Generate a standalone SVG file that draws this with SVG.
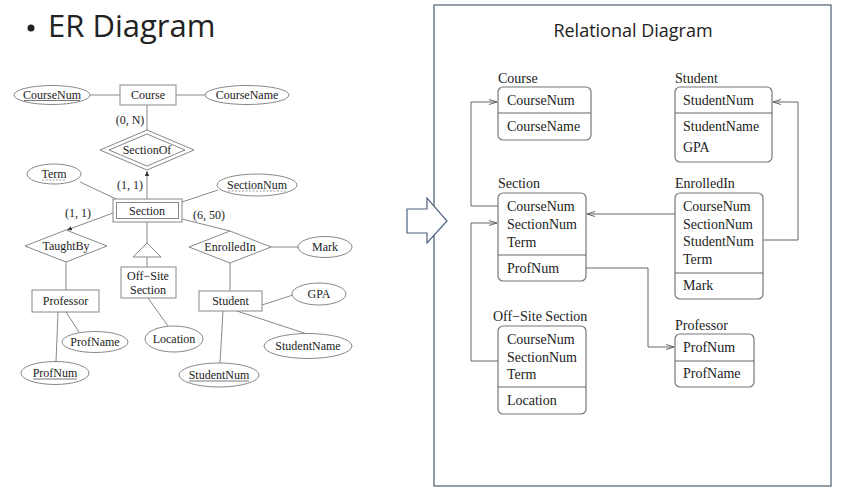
<svg xmlns="http://www.w3.org/2000/svg" width="843" height="502" viewBox="0 0 843 502">
<defs>
<style>
.er{fill:#fff;stroke:#888;stroke-width:1}
.erl{stroke:#888;stroke-width:1;fill:none}
.et{font-family:"Liberation Serif","Times New Roman",serif;font-size:12px;fill:#222;text-anchor:middle}
.rb{fill:#fff;stroke:#777;stroke-width:1.2}
.rl{stroke:#666;stroke-width:1;fill:none}
.rt{font-family:"Liberation Serif","Times New Roman",serif;font-size:14px;fill:#222}
.ttl{font-family:"Open Sans","Noto Sans",sans-serif;fill:#222}
.ul{stroke:#555;stroke-width:0.8}
.dul{stroke:#888;stroke-width:0.8;stroke-dasharray:2,1.5}
</style>
<marker id="fa" markerWidth="6" markerHeight="6" refX="5" refY="3" orient="auto" markerUnits="userSpaceOnUse">
<path d="M0,0.8 L5,3 L0,5.2 Z" fill="#333"/>
</marker>
<marker id="oa" markerWidth="10" markerHeight="8" refX="8" refY="3" orient="auto" markerUnits="userSpaceOnUse">
<path d="M0,0.5 L8,3 L0,5.5" fill="none" stroke="#666" stroke-width="1"/>
</marker>
</defs>
<rect width="843" height="502" fill="#fff"/>

<g id="er-title">
<circle cx="31" cy="28" r="3.5" fill="#222"/>
<text class="ttl" x="48" y="37" font-size="31">ER Diagram</text>
</g>

<g id="frame">
<rect x="434" y="5" width="397" height="481" fill="none" stroke="#4d5d72" stroke-width="1.2"/>
<text class="ttl" x="633" y="37" font-size="18" text-anchor="middle">Relational Diagram</text>
</g>

<g id="block-arrow">
<path d="M407,209 H427 V198 L447,221 L427,243 V233 H407 Z" fill="#fff" stroke="#4d6280" stroke-width="1.2"/>
</g>

<g id="er-connectors">
<line class="erl" x1="90" y1="95" x2="120" y2="95"/>
<line class="erl" x1="176" y1="95" x2="205" y2="95"/>
<line class="erl" x1="147" y1="105" x2="147" y2="130"/>
<line class="erl" x1="147" y1="199" x2="147" y2="171" marker-end="url(#fa)"/>
<line class="erl" x1="80" y1="182" x2="116" y2="199"/>
<line class="erl" x1="218" y1="190" x2="182" y2="202"/>
<line class="erl" x1="113" y1="213" x2="67" y2="230" marker-end="url(#fa)"/>
<line class="erl" x1="66" y1="262" x2="66" y2="290"/>
<line class="erl" x1="66" y1="312" x2="79" y2="332"/>
<line class="erl" x1="58" y1="312" x2="56" y2="362"/>
<line class="erl" x1="147" y1="222" x2="147" y2="243"/>
<line class="erl" x1="147" y1="257" x2="147" y2="267"/>
<line class="erl" x1="148" y1="298" x2="168" y2="326"/>
<line class="erl" x1="182" y1="219" x2="230" y2="231"/>
<line class="erl" x1="271" y1="247" x2="298" y2="247"/>
<line class="erl" x1="230" y1="263" x2="230" y2="291" stroke-width="1.8"/>
<line class="erl" x1="262" y1="305" x2="293" y2="295"/>
<line class="erl" x1="237" y1="311" x2="307" y2="334"/>
<line class="erl" x1="223" y1="311" x2="220" y2="363"/>
</g>

<g id="er-course">
<rect class="er" x="120" y="85" width="56" height="20"/>
<text class="et" x="148" y="99">Course</text>
</g>
<g id="er-coursenum">
<ellipse class="er" cx="52" cy="95" rx="38" ry="9.5"/>
<text class="et" x="52" y="99">CourseNum</text>
<line class="ul" x1="24" y1="100.5" x2="80" y2="100.5"/>
</g>
<g id="er-coursename">
<ellipse class="er" cx="247" cy="95" rx="42" ry="9.5"/>
<text class="et" x="247" y="99">CourseName</text>
</g>
<text class="et" x="130" y="124">(0, N)</text>
<g id="er-sectionof">
<polygon class="er" points="147,130 194,150 147,170 100,150"/>
<polygon class="er" points="147,134 185,150 147,166 109,150"/>
<text class="et" x="147" y="154">SectionOf</text>
</g>
<text class="et" x="130" y="189">(1, 1)</text>
<g id="er-term">
<ellipse class="er" cx="54" cy="174" rx="27" ry="10"/>
<text class="et" x="54" y="178">Term</text>
<line class="dul" x1="42" y1="180" x2="66" y2="180"/>
</g>
<g id="er-sectionnum">
<ellipse class="er" cx="257" cy="185" rx="40" ry="11"/>
<text class="et" x="257" y="189">SectionNum</text>
<line class="dul" x1="228" y1="191" x2="286" y2="191"/>
</g>
<g id="er-section">
<rect class="er" x="113" y="199" width="69" height="23"/>
<rect class="er" x="116.5" y="202.5" width="62" height="16"/>
<text class="et" x="147" y="215">Section</text>
</g>
<text class="et" x="78" y="217">(1, 1)</text>
<text class="et" x="209" y="219">(6, 50)</text>
<g id="er-taughtby">
<polygon class="er" points="66,230 107,246 66,262 25,246"/>
<text class="et" x="66" y="250">TaughtBy</text>
</g>
<g id="er-isa">
<polygon class="er" points="147,243 161,257 133,257"/>
</g>
<g id="er-offsite">
<rect class="er" x="121" y="267" width="55" height="31"/>
<text class="et" x="148" y="280">Off−Site</text>
<text class="et" x="148" y="294">Section</text>
</g>
<g id="er-enrolledin">
<polygon class="er" points="230,231 271,247 230,263 189,247"/>
<text class="et" x="230" y="251">EnrolledIn</text>
</g>
<g id="er-mark">
<ellipse class="er" cx="325" cy="247" rx="27" ry="10.5"/>
<text class="et" x="325" y="251">Mark</text>
</g>
<g id="er-professor">
<rect class="er" x="32" y="290" width="67" height="22"/>
<text class="et" x="65.5" y="305">Professor</text>
</g>
<g id="er-student">
<rect class="er" x="199" y="291" width="63" height="20"/>
<text class="et" x="230.5" y="305">Student</text>
</g>
<g id="er-gpa">
<ellipse class="er" cx="319" cy="294" rx="27" ry="11"/>
<text class="et" x="319" y="298">GPA</text>
</g>
<g id="er-profname">
<ellipse class="er" cx="95" cy="342" rx="33" ry="10.5"/>
<text class="et" x="95" y="346">ProfName</text>
</g>
<g id="er-location">
<ellipse class="er" cx="174" cy="339" rx="29" ry="13"/>
<text class="et" x="174" y="343">Location</text>
</g>
<g id="er-studentname">
<ellipse class="er" cx="308" cy="346" rx="44" ry="12.5"/>
<text class="et" x="308" y="350">StudentName</text>
</g>
<g id="er-profnum">
<ellipse class="er" cx="55" cy="373" rx="34" ry="11.5"/>
<text class="et" x="55" y="377">ProfNum</text>
<line class="ul" x1="33" y1="379" x2="77" y2="379"/>
</g>
<g id="er-studentnum">
<ellipse class="er" cx="219" cy="375" rx="40" ry="12"/>
<text class="et" x="219" y="379">StudentNum</text>
<line class="ul" x1="189" y1="381" x2="249" y2="381"/>
</g>

<g id="rel-connectors">
<path class="rl" d="M498,206 H471 V102 H497" marker-end="url(#oa)"/>
<path class="rl" d="M498,361 H471 V223 H497" marker-end="url(#oa)"/>
<path class="rl" d="M675,214 H587" marker-end="url(#oa)"/>
<path class="rl" d="M763,240 H798 V102 H773" marker-end="url(#oa)"/>
<path class="rl" d="M586,268 H648 V347 H674" marker-end="url(#oa)"/>
</g>

<g id="rel-course">
<text class="rt" x="498" y="83">Course</text>
<rect class="rb" x="498" y="87" width="93" height="53" rx="5"/>
<line class="rl" x1="498" y1="113" x2="591" y2="113"/>
<text class="rt" x="507" y="105">CourseNum</text>
<text class="rt" x="507" y="131">CourseName</text>
</g>
<g id="rel-student">
<text class="rt" x="675" y="83">Student</text>
<rect class="rb" x="675" y="87" width="97" height="75" rx="5"/>
<line class="rl" x1="675" y1="113" x2="772" y2="113"/>
<text class="rt" x="683" y="105">StudentNum</text>
<text class="rt" x="683" y="131">StudentName</text>
<text class="rt" x="683" y="152">GPA</text>
</g>
<g id="rel-section">
<text class="rt" x="498" y="188">Section</text>
<rect class="rb" x="498" y="193" width="88" height="88" rx="5"/>
<line class="rl" x1="498" y1="255" x2="586" y2="255"/>
<text class="rt" x="507" y="211">CourseNum</text>
<text class="rt" x="507" y="229">SectionNum</text>
<text class="rt" x="507" y="247">Term</text>
<text class="rt" x="507" y="273">ProfNum</text>
</g>
<g id="rel-enrolledin">
<text class="rt" x="675" y="188">EnrolledIn</text>
<rect class="rb" x="675" y="193" width="88" height="106" rx="5"/>
<line class="rl" x1="675" y1="273" x2="763" y2="273"/>
<text class="rt" x="683" y="211">CourseNum</text>
<text class="rt" x="683" y="229">SectionNum</text>
<text class="rt" x="683" y="246">StudentNum</text>
<text class="rt" x="683" y="264">Term</text>
<text class="rt" x="683" y="290">Mark</text>
</g>
<g id="rel-offsite">
<text class="rt" x="493" y="321">Off−Site Section</text>
<rect class="rb" x="498" y="326" width="88" height="88" rx="5"/>
<line class="rl" x1="498" y1="387" x2="586" y2="387"/>
<text class="rt" x="507" y="344">CourseNum</text>
<text class="rt" x="507" y="362">SectionNum</text>
<text class="rt" x="507" y="379">Term</text>
<text class="rt" x="507" y="405">Location</text>
</g>
<g id="rel-professor">
<text class="rt" x="675" y="330">Professor</text>
<rect class="rb" x="675" y="334" width="79" height="53" rx="5"/>
<line class="rl" x1="675" y1="361" x2="754" y2="361"/>
<text class="rt" x="683" y="352">ProfNum</text>
<text class="rt" x="683" y="378">ProfName</text>
</g>
</svg>
